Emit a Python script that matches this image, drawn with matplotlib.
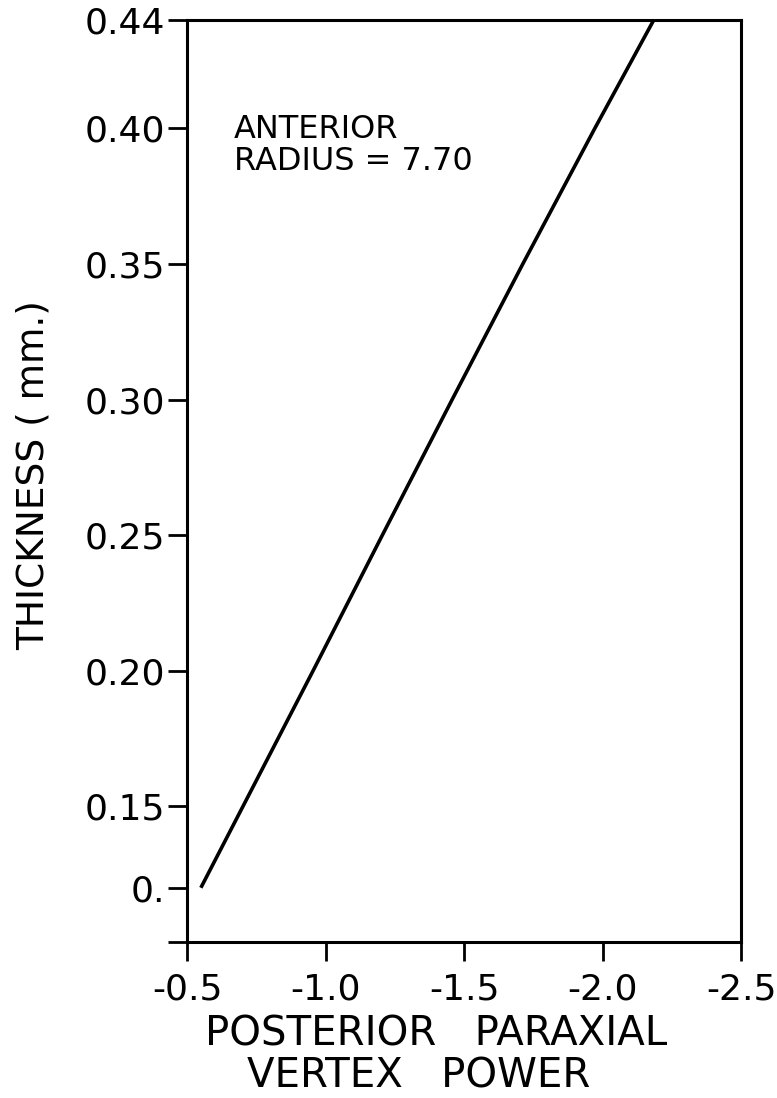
import matplotlib.pyplot as plt

# posterior vertex paraxial power vs. thickness
power = [-0.55, -0.955, -1.205, -1.457, -1.712, -1.972, -2.185]
thickness = [0.12, 0.20, 0.25, 0.30, 0.35, 0.40, 0.44]

x_ticks = [-0.5, -1.0, -1.5, -2.0, -2.5]
x_labels = ['-0.5', '-1.0', '-1.5', '-2.0', '-2.5']
y_ticks = [0.10, 0.12, 0.15, 0.20, 0.25, 0.30, 0.35, 0.40, 0.44]
y_labels = ['', '0.', '0.15', '0.20', '0.25', '0.30', '0.35', '0.40', '0.44']

plt.rcParams['font.family'] = ['DejaVu Sans']

fig = plt.figure(figsize=(7.77, 10.98), dpi=100)
ax = fig.add_axes([0.2407, 0.1421, 0.7130, 0.8397])

ax.plot(power, thickness, color='black', linewidth=2.6, solid_capstyle='butt')

ax.set_xlim(-0.5, -2.5)
ax.set_ylim(0.10, 0.44)

ax.set_xticks(x_ticks)
ax.set_xticklabels(x_labels)
ax.set_yticks(y_ticks)
ax.set_yticklabels(y_labels)

ax.tick_params(axis='both', direction='out', length=14, width=2,
               labelsize=26, color='black', pad=2)
ax.tick_params(axis='x', pad=8)

for s in ax.spines.values():
    s.set_linewidth(2.2)
    s.set_color('black')

ax.set_ylabel('THICKNESS ( mm.)', fontsize=27)
ax.yaxis.set_label_coords(-0.245, 0.506)

# two-line x label, the lines are not centred on each other
ax.text(205 / 777, 1 - 1046 / 1098, 'POSTERIOR   PARAXIAL', transform=fig.transFigure,
        ha='left', va='baseline', fontsize=29)
ax.text(247 / 777, 1 - 1088 / 1098, 'VERTEX   POWER', transform=fig.transFigure,
        ha='left', va='baseline', fontsize=29)

ax.text(0.085, 0.898, 'ANTERIOR\nRADIUS = 7.70', transform=ax.transAxes,
        ha='left', va='top', fontsize=23, linespacing=1.02)

fig.savefig('out.png', dpi=100)
